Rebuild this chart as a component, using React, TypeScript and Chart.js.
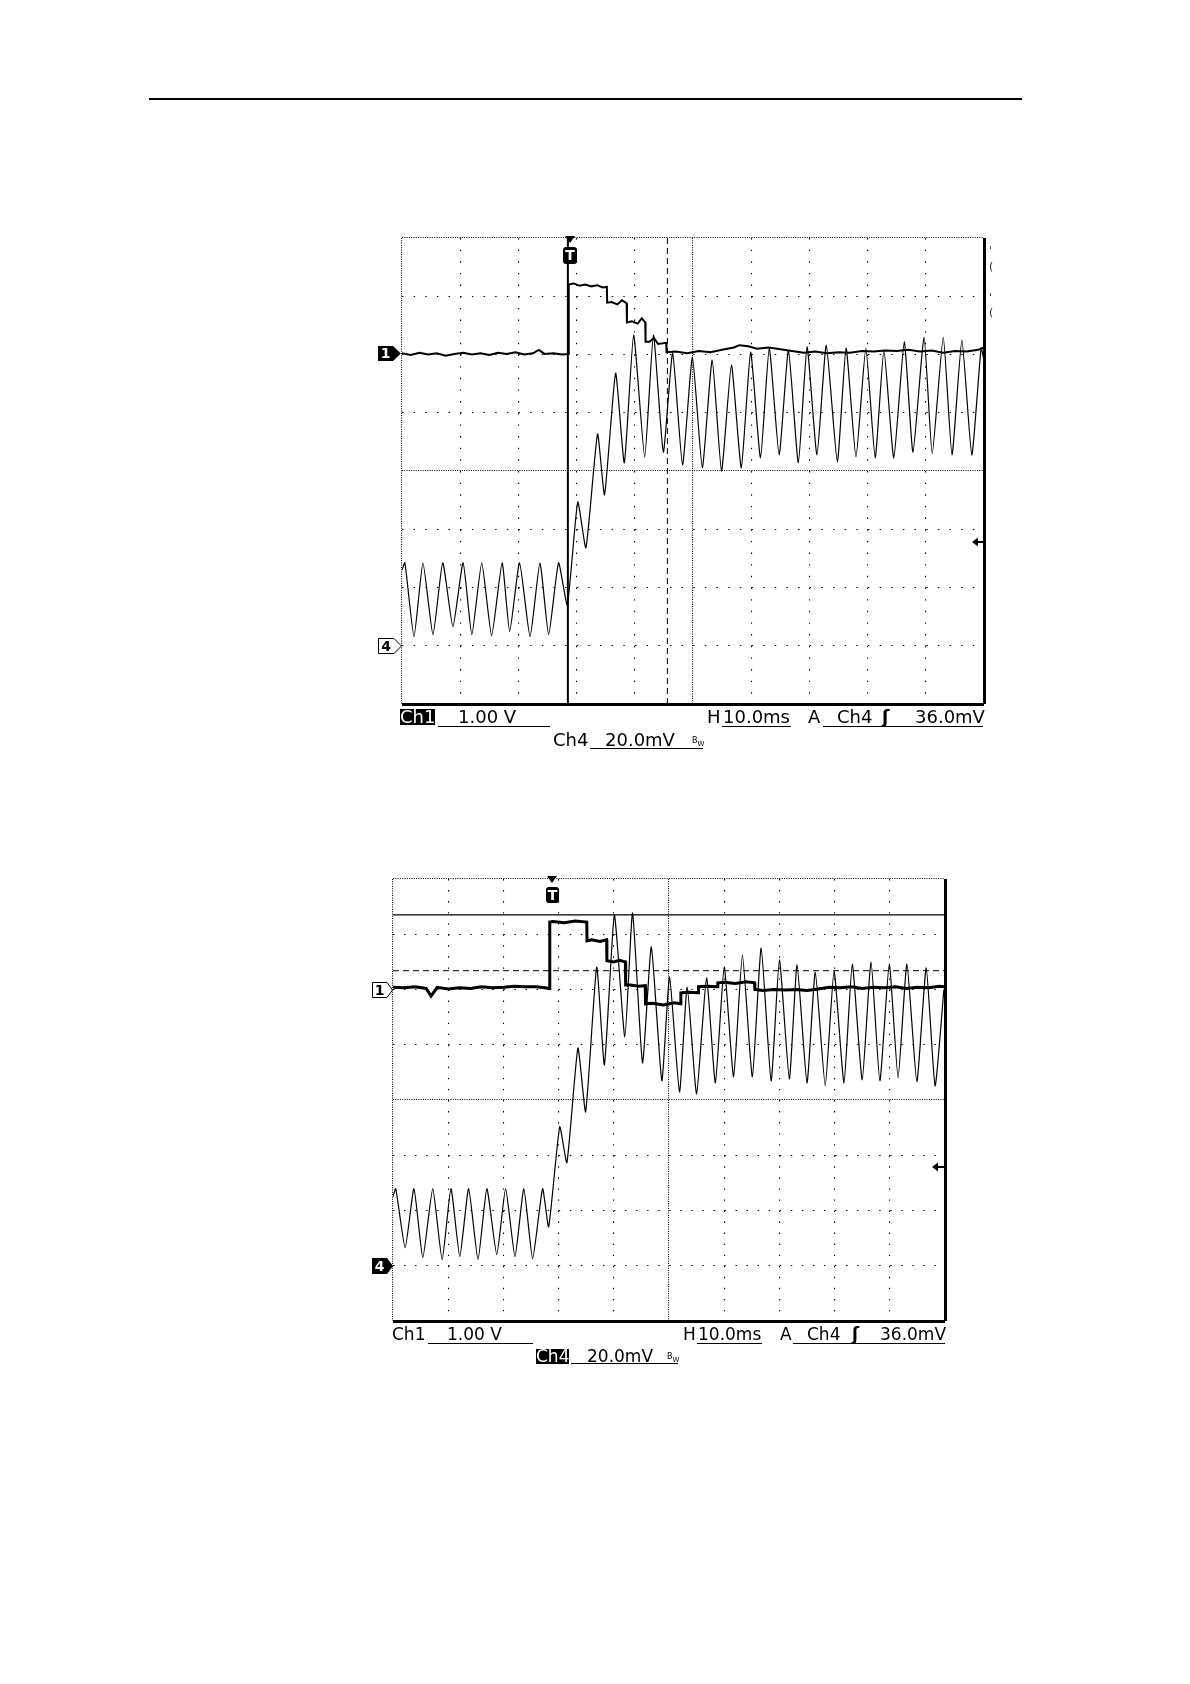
import React, { useEffect, useRef } from 'react';
import { Chart, registerables } from 'chart.js';

Chart.register(...registerables);

type Pt = [number, number];

// ---------------- Top oscilloscope capture (x in ms, Ch1 in V, Ch4 in mV) ----------------
const topCh1Trace: Pt[] = [
  [0, 0.02], [1.5, -0.01], [3, 0.03], [4.5, 0], [6, 0.02], [7.5, -0.02], [9, 0.01], [10.5, 0.03],
  [12, 0], [13.5, 0.02], [15, -0.01], [16.5, 0.03], [18, 0.01], [19.5, 0.04], [21, 0], [22.5, 0.02],
  [23.5, 0.08], [24.5, 0.01], [26, 0.02], [27.5, 0], [28.6, 0.01],
  [28.65, 1.2], [29.5, 1.22], [30.5, 1.18], [31.5, 1.2], [32.5, 1.17], [33.5, 1.19], [34.5, 1.15], [35.2, 1.16],
  [35.25, 0.89], [36, 0.9], [37, 0.86], [37.8, 0.93], [38.6, 0.88],
  [38.65, 0.55], [39.5, 0.57], [40.5, 0.53], [41.2, 0.62], [41.8, 0.55],
  [41.85, 0.22], [42.5, 0.22], [43.3, 0.28], [44, 0.18], [45.4, 0.2],
  [45.45, 0.04], [47, 0.05], [49, 0.02], [51, 0.06], [53, 0.04], [55, 0.08], [57, 0.12], [58, 0.16],
  [59.5, 0.14], [61, 0.1], [63, 0.12], [65, 0.09], [67, 0.06], [69, 0.03], [71, 0.05], [73, 0.02],
  [75, 0.04], [77, 0.03], [79, 0.06], [81, 0.05], [83, 0.07], [85, 0.06], [87, 0.08], [89, 0.05],
  [91, 0.07], [93, 0.03], [95, 0.06], [97, 0.05], [99, 0.08], [100, 0.12],
];

const topCh4Trace: Pt[] = [
  [0, 26], [0.5, 28.5], [2.06, 3.1], [3.6, 28.5], [5.32, 3.8], [7.0, 28.5], [8.75, 6.5], [10.5, 28.5],
  [12.0, 3.8], [13.7, 28.5], [15.4, 3.4], [17.2, 28.5], [18.5, 4.8], [20.2, 28.5], [22.0, 3.1],
  [23.7, 28.5], [25.2, 3.8], [26.9, 28.5], [28.4, 14],
  [30.2, 49.4], [31.6, 33.6], [33.6, 72.7], [34.8, 51.8], [36.7, 93.6], [38.2, 62.8], [39.8, 106.7],
  [41.7, 64.8], [43.2, 106.7], [44.9, 66.5], [46.5, 100.5], [48.2, 62.1], [49.9, 99.1], [51.6, 61.1],
  [53.3, 98.1], [54.9, 60.0], [56.6, 96.4], [58.3, 61.1], [59.9, 100.8], [61.6, 64.5], [63.1, 102.2],
  [64.8, 65.5], [66.4, 101.5], [68.1, 62.8], [69.6, 102.6], [71.3, 65.5], [72.9, 103.2], [74.8, 63.1],
  [76.3, 102.2], [78.0, 64.8], [79.7, 102.2], [81.3, 64.5], [82.8, 101.5], [84.5, 64.5], [86.3, 104.3],
  [87.8, 66.5], [89.7, 106.0], [91.1, 65.9], [93.0, 106.0], [94.5, 65.5], [96.2, 105.0], [97.9, 65.5],
  [99.5, 102.2], [100, 98],
];

const topCursorSolidMs = 28.5;
const topCursorDashedMs = 45.6;

// ---------------- Bottom oscilloscope capture ----------------
const botCh1Trace: Pt[] = [
  [0, 0.04], [2, 0.03], [4, 0.05], [6, 0.02], [6.9, -0.12], [8, 0.04], [10, 0.01], [12, 0.03],
  [14, 0.02], [16, 0.05], [18, 0.03], [20, 0.04], [22, 0.06], [24, 0.05], [26, 0.05], [27.5, 0.03],
  [28.35, 0.02],
  [28.4, 1.22], [29, 1.23], [31, 1.21], [33, 1.24], [35.1, 1.22],
  [35.15, 0.88], [36, 0.9], [37.5, 0.87], [38.7, 0.9],
  [38.75, 0.52], [40, 0.5], [41, 0.53], [42.1, 0.5],
  [42.15, 0.08], [43, 0.08], [44.5, 0.06], [45.7, 0.07],
  [45.75, -0.26], [47, -0.25], [49, -0.28], [51, -0.24], [52.1, -0.26],
  [52.15, -0.06], [53.5, -0.05], [55.3, -0.06],
  [55.35, 0.05], [57, 0.06], [58.8, 0.05],
  [58.85, 0.12], [60, 0.13], [62, 0.11], [64, 0.14], [65.5, 0.12],
  [65.55, 0.0], [67, -0.02], [69, 0.0], [71, -0.01], [73, 0.0], [75, -0.02], [77, 0.01], [79, 0.04],
  [81, 0.03], [83, 0.05], [85, 0.02], [87, 0.04], [89, 0.03], [91, 0.05], [93, 0.02], [95, 0.04],
  [97, 0.03], [99, 0.06], [100, 0.05],
];

const botCh4Trace: Pt[] = [
  [0, 25], [0.5, 27.9], [2.2, 6.5], [3.8, 27.9], [5.4, 2.9], [7.2, 27.9], [8.9, 2.2], [10.5, 27.9],
  [12.1, 3.3], [13.7, 27.9], [15.4, 2.2], [17.0, 27.9], [18.8, 4.0], [20.4, 27.9], [22.1, 3.3],
  [23.7, 27.9], [25.3, 2.5], [27.1, 27.9], [28.2, 14.1],
  [30.2, 50.3], [31.5, 37.3], [33.5, 78.8], [34.9, 55.7], [36.9, 108.1], [38.3, 72.7], [40.1, 127],
  [42.0, 82.8], [43.4, 127.7], [45.2, 73.4], [46.8, 115.4], [48.7, 67], [50.1, 104.5], [51.9, 62.9],
  [53.3, 100.9], [55.0, 62.2], [56.8, 104.2], [58.4, 66.2], [60.0, 108.1], [61.7, 68.4], [63.3, 112.5],
  [65.1, 68.4], [66.7, 115.0], [68.5, 66.9], [70.0, 110.7], [71.8, 67.6], [73.2, 108.9], [75.0, 66.2],
  [76.5, 106.3], [78.3, 65.1], [79.9, 106.7], [81.7, 66.2], [83.2, 109.2], [85.0, 67.3], [86.6, 110.0],
  [88.2, 66.9], [89.9, 109.2], [91.5, 68.0], [93.1, 109.2], [94.9, 66.6], [96.6, 107.8], [98.2, 65.1],
  [99.8, 100],
];

const botCursorSolidV = 1.35;
const botCursorDashedV = 0.34;

// Axis ranges (10 horizontal divisions of 10 ms, 8 vertical divisions)
const timeRange = [0, 100];
const ch1Range = [-6, 2]; // 1.00 V/div, ground 2 div below top
const ch4Range = [-20, 140]; // 20.0 mV/div, ground 1 div above bottom

// Readout texts
const ch1Scale = '1.00 V';
const ch4Scale = '20.0mV';
const timeBase = '10.0ms';
const trigSource = 'Ch4';
const trigLevel = '36.0mV';

const FONT = '"DejaVu Sans", sans-serif';

type Area = { left: number; top: number; width: number; height: number };
type Cursor = { kind: 'v' | 'h'; value: number; dashed: boolean; width: number };

const PAD = 10;

function Scope({ area, ch1, ch4, ch1Width, cursors }: { area: Area; ch1: Pt[]; ch4: Pt[]; ch1Width: number; cursors: Cursor[] }) {
  const ref = useRef<HTMLCanvasElement>(null);
  useEffect(() => {
    const gap = area.height / 8 / 5;
    const dotted = [1.4, gap - 1.4];
    const dense = [1, 1.3];
    const cursorSets = cursors.map((c) => ({
      data:
        c.kind === 'v'
          ? [{ x: c.value, y: ch1Range[0] }, { x: c.value, y: ch1Range[1] }]
          : [{ x: timeRange[0], y: c.value }, { x: timeRange[1], y: c.value }],
      yAxisID: 'y1',
      borderColor: '#000',
      borderWidth: c.width,
      borderDash: c.dashed ? [6, 4] : [],
      pointRadius: 0,
      tension: 0,
    }));
    const chart = new Chart(ref.current!, {
      type: 'line',
      data: {
        datasets: [
          {
            data: ch1.map(([x, y]) => ({ x, y })),
            yAxisID: 'y1',
            borderColor: '#000',
            borderWidth: ch1Width,
            pointRadius: 0,
            tension: 0,
          },
          {
            data: ch4.map(([x, y]) => ({ x, y })),
            yAxisID: 'y4',
            borderColor: '#000',
            borderWidth: 1.2,
            pointRadius: 0,
            tension: 0.16,
          },
          ...cursorSets,
        ] as any,
      },
      options: {
        animation: false,
        responsive: false,
        maintainAspectRatio: false,
        layout: { padding: PAD },
        plugins: { legend: { display: false }, tooltip: { enabled: false } },
        scales: {
          x: {
            type: 'linear',
            min: timeRange[0],
            max: timeRange[1],
            ticks: { display: false, stepSize: 10 },
            grid: {
              color: '#000',
              drawTicks: false,
              lineWidth: (c: any) => (c.tick && c.tick.value === 100 ? 3 : 1.1),
            },
            border: {
              display: false,
              dash: (c: any) => {
                const v = c.tick ? c.tick.value : -1;
                if (v === 100) return [];
                if (v === 0 || v === 50) return dense;
                return dotted;
              },
            },
            afterFit: (s: any) => {
              s.height = 0;
            },
          },
          y1: {
            type: 'linear',
            position: 'left',
            min: ch1Range[0],
            max: ch1Range[1],
            ticks: { display: false, stepSize: 1 },
            grid: {
              color: '#000',
              drawTicks: false,
              lineWidth: (c: any) => (c.tick && c.tick.value === -6 ? 3 : 1.1),
            },
            border: {
              display: false,
              dash: (c: any) => {
                const v = c.tick ? c.tick.value : 0;
                if (v === -6) return [];
                if (v === 2 || v === -2) return dense;
                return dotted;
              },
            },
            afterFit: (s: any) => {
              s.width = 0;
            },
          },
          y4: {
            type: 'linear',
            display: false,
            min: ch4Range[0],
            max: ch4Range[1],
          },
        },
      } as any,
    });
    return () => chart.destroy();
  }, []);
  return (
    <canvas
      ref={ref}
      width={area.width + 2 * PAD}
      height={area.height + 2 * PAD}
      style={{ position: 'absolute', left: area.left - PAD, top: area.top - PAD }}
    />
  );
}

function Txt({ x, y, size, children, inv, bold }: { x: number; y: number; size: number; children: React.ReactNode; inv?: boolean; bold?: boolean }) {
  return (
    <div
      style={{
        position: 'absolute',
        left: x,
        top: y,
        fontFamily: FONT,
        fontSize: size,
        lineHeight: inv ? `${size - 2}px` : `${size}px`,
        whiteSpace: 'nowrap',
        color: inv ? '#fff' : '#000',
        background: inv ? '#000' : 'transparent',
        fontWeight: bold ? 'bold' : 'normal',
      }}
    >
      {children}
    </div>
  );
}

function HLine({ x, y, w, h = 1 }: { x: number; y: number; w: number; h?: number }) {
  return <div style={{ position: 'absolute', left: x, top: y, width: w, height: h, background: '#000' }} />;
}

function BW({ x, y }: { x: number; y: number }) {
  return (
    <div style={{ position: 'absolute', left: x, top: y, fontFamily: FONT, fontSize: 8, lineHeight: '8px', whiteSpace: 'nowrap' }}>
      B<span style={{ position: 'relative', top: 3, fontSize: 7 }}>W</span>
    </div>
  );
}

function MarkerText({ x, y, w, h, label, white }: { x: number; y: number; w: number; h: number; label: string; white: boolean }) {
  return (
    <div
      style={{
        position: 'absolute',
        left: x,
        top: y,
        width: w,
        height: h,
        lineHeight: `${h}px`,
        textAlign: 'center',
        fontFamily: FONT,
        fontWeight: 'bold',
        fontSize: 14,
        color: white ? '#fff' : '#000',
      }}
    >
      {label}
    </div>
  );
}

const TOP_AREA: Area = { left: 402, top: 238, width: 582, height: 466 };
const BOT_AREA: Area = { left: 393, top: 879, width: 552, height: 442 };

export default function App() {
  return (
    <div style={{ position: 'absolute', left: 0, top: 0, width: 1190, height: 1684, background: '#fff', overflow: 'hidden' }}>
      {/* page header rule */}
      <HLine x={149} y={98} w={873} h={1.5} />

      <Scope
        area={TOP_AREA}
        ch1={topCh1Trace}
        ch4={topCh4Trace}
        ch1Width={2}
        cursors={[
          { kind: 'v', value: topCursorSolidMs, dashed: false, width: 2 },
          { kind: 'v', value: topCursorDashedMs, dashed: true, width: 1 },
        ]}
      />
      <Scope
        area={BOT_AREA}
        ch1={botCh1Trace}
        ch4={botCh4Trace}
        ch1Width={3}
        cursors={[
          { kind: 'h', value: botCursorSolidV, dashed: false, width: 1.2 },
          { kind: 'h', value: botCursorDashedV, dashed: true, width: 1 },
        ]}
      />

      {/* marker shapes */}
      <svg width={1190} height={1684} style={{ position: 'absolute', left: 0, top: 0, pointerEvents: 'none' }}>
        {/* top scope */}
        <polygon points="378,346 393,346 401,353.5 393,361 378,361" fill="#000" />
        <polygon points="378.5,638.5 394,638.5 401.5,646 394,653.5 378.5,653.5" fill="#fff" stroke="#000" strokeWidth={1} />
        <polygon points="565,236 575,236 570,243" fill="#000" />
        <rect x={563} y={247} width={14} height={17} rx={3} fill="#000" />
        <polygon points="972,542 978,537.5 978,546.5" fill="#000" />
        <rect x={977} y={541} width={6} height={2} fill="#000" />
        {/* bottom scope */}
        <polygon points="372.5,982.5 387,982.5 392.5,990 387,997.5 372.5,997.5" fill="#fff" stroke="#000" strokeWidth={1} />
        <polygon points="372,1258 387,1258 393,1266 387,1274 372,1274" fill="#000" />
        <polygon points="547,876 557,876 552,883" fill="#000" />
        <rect x={546} y={887} width={13} height={16} rx={3} fill="#000" />
        <polygon points="932,1167 938,1162.5 938,1171.5" fill="#000" />
        <rect x={937} y={1166} width={7} height={2} fill="#000" />
      </svg>

      {/* marker labels */}
      <MarkerText x={378} y={346} w={15} h={15} label="1" white />
      <MarkerText x={378} y={638} w={16} h={16} label="4" white={false} />
      <MarkerText x={563} y={247} w={14} h={17} label="T" white />
      <MarkerText x={372} y={982} w={15} h={16} label="1" white={false} />
      <MarkerText x={372} y={1258} w={15} h={16} label="4" white />
      <MarkerText x={546} y={887} w={13} h={16} label="T" white />

      {/* cut-off readout glyphs at right of top capture */}
      <div style={{ position: 'absolute', left: 989, top: 246, fontFamily: FONT, fontSize: 10, lineHeight: '10px', color: '#222' }}>'</div>
      <div style={{ position: 'absolute', left: 989, top: 261, fontFamily: FONT, fontSize: 11, lineHeight: '11px', color: '#222' }}>(</div>
      <div style={{ position: 'absolute', left: 989, top: 293, fontFamily: FONT, fontSize: 10, lineHeight: '10px', color: '#222' }}>'</div>
      <div style={{ position: 'absolute', left: 989, top: 307, fontFamily: FONT, fontSize: 11, lineHeight: '11px', color: '#222' }}>(</div>

      {/* top readouts */}
      <Txt x={400} y={709} size={18} inv>Ch1</Txt>
      <Txt x={458} y={708} size={18}>{ch1Scale}</Txt>
      <HLine x={438} y={726} w={112} />
      <Txt x={707} y={708} size={18}>H</Txt>
      <Txt x={723} y={708} size={18}>{timeBase}</Txt>
      <HLine x={722} y={726} w={69} />
      <Txt x={808} y={708} size={18}>A</Txt>
      <Txt x={837} y={708} size={18}>{trigSource}</Txt>
      <Txt x={882} y={708} size={18} bold>ʃ</Txt>
      <Txt x={915} y={708} size={18}>{trigLevel}</Txt>
      <HLine x={823} y={726} w={160} />
      <Txt x={553} y={731} size={18}>Ch4</Txt>
      <Txt x={605} y={731} size={18}>{ch4Scale}</Txt>
      <HLine x={590} y={748} w={113} />
      <BW x={692} y={737} />

      {/* bottom readouts */}
      <Txt x={392} y={1326} size={17}>Ch1</Txt>
      <Txt x={447} y={1326} size={17}>{ch1Scale}</Txt>
      <HLine x={428} y={1343} w={105} />
      <Txt x={683} y={1326} size={17}>H</Txt>
      <Txt x={698} y={1326} size={17}>{timeBase}</Txt>
      <HLine x={697} y={1343} w={65} />
      <Txt x={780} y={1326} size={17}>A</Txt>
      <Txt x={807} y={1326} size={17}>{trigSource}</Txt>
      <Txt x={852} y={1326} size={17} bold>ʃ</Txt>
      <Txt x={880} y={1326} size={17}>{trigLevel}</Txt>
      <HLine x={793} y={1343} w={152} />
      <Txt x={536} y={1349} size={17} inv>Ch4</Txt>
      <Txt x={587} y={1348} size={17}>{ch4Scale}</Txt>
      <HLine x={571} y={1363} w={107} />
      <BW x={667} y={1353} />
    </div>
  );
}
